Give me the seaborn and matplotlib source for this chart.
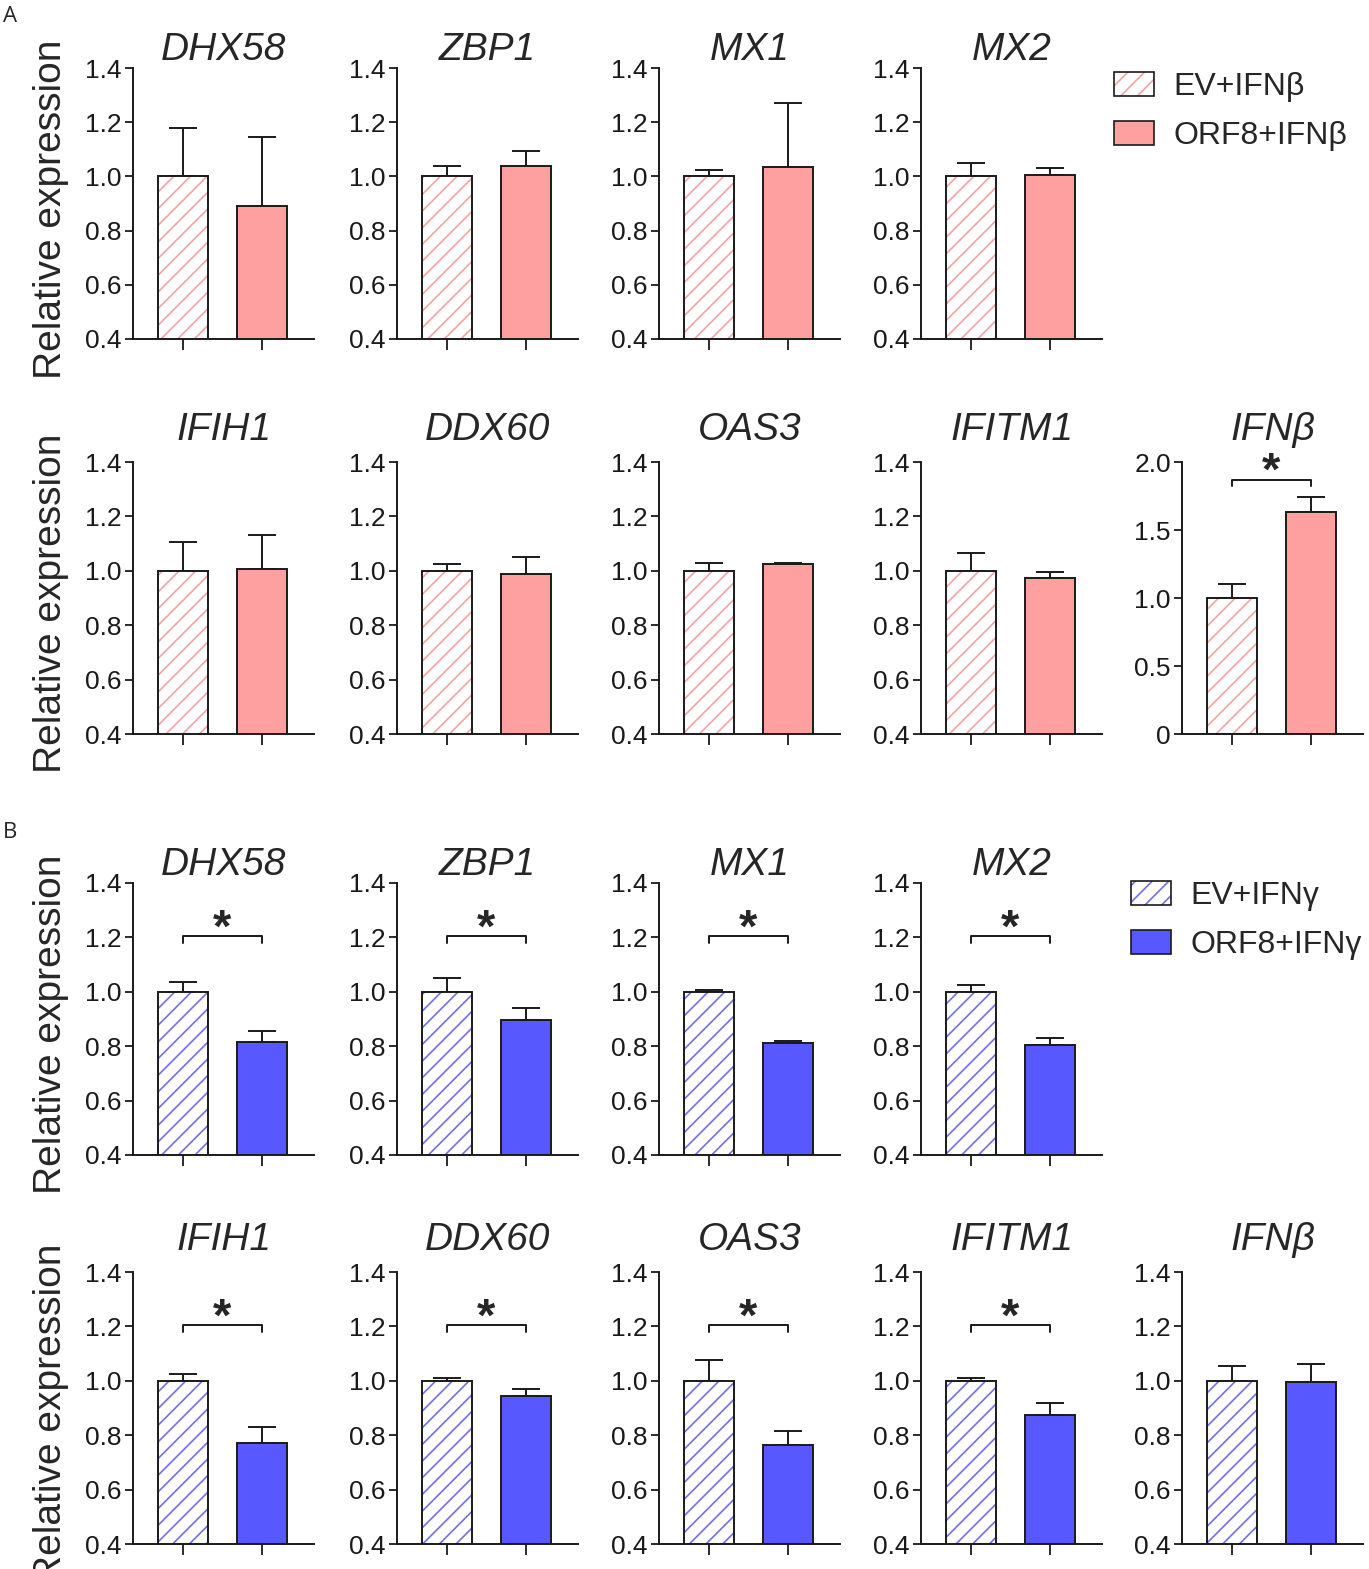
import numpy as np
import pandas as pd
import matplotlib
matplotlib.use("Agg")
import matplotlib.pyplot as plt
import seaborn as sns
from matplotlib.patches import Patch, Rectangle

# data (mean, upper SEM)
genes = ["DHX58", "ZBP1", "MX1", "MX2", "IFIH1", "DDX60", "OAS3", "IFITM1", "IFNβ"]

ev_a = [1.00, 1.00, 1.00, 1.00, 1.00, 1.00, 1.00, 1.00, 1.00]
ev_a_err = [0.18, 0.04, 0.025, 0.05, 0.105, 0.025, 0.03, 0.065, 0.105]
orf_a = [0.89, 1.04, 1.035, 1.005, 1.005, 0.99, 1.025, 0.975, 1.635]
orf_a_err = [0.255, 0.055, 0.235, 0.025, 0.125, 0.06, 0.005, 0.022, 0.105]
sig_a = [False, False, False, False, False, False, False, False, True]

ev_b = [1.00, 1.00, 1.00, 1.00, 1.00, 1.00, 1.00, 1.00, 1.00]
ev_b_err = [0.035, 0.05, 0.005, 0.025, 0.025, 0.01, 0.075, 0.01, 0.055]
orf_b = [0.815, 0.895, 0.81, 0.805, 0.77, 0.945, 0.765, 0.875, 0.995]
orf_b_err = [0.04, 0.045, 0.01, 0.025, 0.06, 0.025, 0.05, 0.045, 0.065]
sig_b = [True, True, True, True, True, True, True, True, False]

groups = ["EV", "ORF8"]

sns.set_style("ticks")
plt.rcParams["font.family"] = ["Liberation Sans", "DejaVu Sans"]
plt.rcParams["hatch.linewidth"] = 1.2

pink = "#FFA0A0"
pink_hatch = "#F5A3A3"
blue = "#5858FF"
blue_hatch = "#7070F0"
ink = "#1a1a1a"

W, H = 1369, 1569
fig = plt.figure(figsize=(W / 100, H / 100), dpi=100)

col_left = [133, 397, 659, 921, 1182]
ax_w = 181
rows = {"A1": (68, 339), "A2": (462, 734), "B1": (883, 1155), "B2": (1272, 1544)}
title_pad = {"A1": 6, "A2": 16, "B1": 6, "B2": 16}


def make_ax(col, row):
    top, bot = rows[row]
    return fig.add_axes([col_left[col] / W, 1 - bot / H, ax_w / W, (bot - top) / H])


def draw_panel(ax, gene, ev, ev_err, orf, orf_err, fill, hatch_col, sig, ylim, ticks, fmt, pad):
    df = pd.DataFrame({"group": groups, "value": [ev, orf]})
    sns.barplot(data=df, x="group", y="value", hue="group", palette=["white", fill],
                saturation=1, errorbar=None, width=0.64, legend=False, ax=ax, zorder=2)
    ev_bar, orf_bar = ax.patches[:2]
    ev_bar.set_hatch("//")
    ev_bar.set_facecolor("white")
    ev_bar.set_edgecolor(hatch_col)
    ev_bar.set_linewidth(0)
    ax.add_patch(Rectangle(ev_bar.get_xy(), ev_bar.get_width(), ev_bar.get_height(),
                           fill=False, ec=ink, lw=1.4, zorder=3))
    orf_bar.set_edgecolor(ink)
    orf_bar.set_linewidth(1.4)
    ax.errorbar([0, 1], [ev, orf], yerr=[[0, 0], [ev_err, orf_err]], fmt="none",
                ecolor=ink, elinewidth=1.4, capsize=10, capthick=1.4, zorder=1)
    ax.set_xlim(-0.64, 1.667)
    ax.set_ylim(*ylim)
    ax.set_yticks(ticks)
    ax.set_yticklabels([fmt(t) for t in ticks])
    ax.set_xticks([0, 1])
    ax.set_xticklabels([])
    ax.set_xlabel("")
    ax.set_ylabel("")
    ax.tick_params(axis="y", length=6, width=1.3, labelsize=19, pad=2, colors=ink)
    ax.tick_params(axis="x", length=8, width=1.3, colors=ink)
    for s in ["left", "bottom"]:
        ax.spines[s].set_linewidth(1.4)
        ax.spines[s].set_color(ink)
    sns.despine(ax=ax)
    ax.set_title(gene, fontstyle="italic", fontsize=28, pad=pad)
    if sig:
        span = ylim[1] - ylim[0]
        h = 1.205 if ylim[1] < 1.5 else 1.87
        d = 0.025 * span
        ax.plot([0, 0, 1, 1], [h - d, h, h, h - d], color=ink, lw=1.4, clip_on=False)
        ax.text(0.5, h - 0.02 * span, "*", ha="center", va="baseline",
                fontsize=34, fontweight="bold", clip_on=False)


def add_ylabel(ax):
    ax.set_ylabel("Relative expression", fontsize=28)
    ax.yaxis.set_label_coords(-0.355, 0.48)


def f1(t):
    return f"{t:.1f}"


def f_ifn(t):
    return "0" if t == 0 else f"{t:.1f}"


std_ticks = [0.4, 0.6, 0.8, 1.0, 1.2, 1.4]

for i, g in enumerate(genes):
    col = i if i < 4 else i - 4
    # panel A
    row = "A1" if i < 4 else "A2"
    ax = make_ax(col, row)
    if g == "IFNβ":
        draw_panel(ax, g, ev_a[i], ev_a_err[i], orf_a[i], orf_a_err[i], pink, pink_hatch,
                   sig_a[i], (0, 2.0), [0, 0.5, 1.0, 1.5, 2.0], f_ifn, title_pad[row])
    else:
        draw_panel(ax, g, ev_a[i], ev_a_err[i], orf_a[i], orf_a_err[i], pink, pink_hatch,
                   sig_a[i], (0.4, 1.4), std_ticks, f1, title_pad[row])
    if col == 0:
        add_ylabel(ax)

    # panel B
    row = "B1" if i < 4 else "B2"
    ax = make_ax(col, row)
    draw_panel(ax, g, ev_b[i], ev_b_err[i], orf_b[i], orf_b_err[i], blue, blue_hatch,
               sig_b[i], (0.4, 1.4), std_ticks, f1, title_pad[row])
    if col == 0:
        add_ylabel(ax)


def legend_handles(fill, hatch_col):
    ev_h = (Patch(facecolor="white", edgecolor=hatch_col, hatch="//", lw=0),
            Patch(facecolor="none", edgecolor=ink, lw=1.2))
    orf_h = Patch(facecolor=fill, edgecolor=ink, lw=1.2)
    return [ev_h, orf_h]


for (fill, hc, labels, y0, x0) in [
    (pink, pink_hatch, ["EV+IFNβ", "ORF8+IFNβ"], 72, 1114),
    (blue, blue_hatch, ["EV+IFNγ", "ORF8+IFNγ"], 881, 1131),
]:
    fig.legend(legend_handles(fill, hc), labels, loc="upper left",
               bbox_to_anchor=(x0 / W, 1 - y0 / H), frameon=False,
               prop={"size": 23}, handlelength=1.25, handleheight=0.75,
               handletextpad=0.6, labelspacing=0.6, borderpad=0, borderaxespad=0)

fig.text(3 / W, 1 - 6 / H, "A", fontsize=16, va="top", ha="left", family="Open Sans")
fig.text(3 / W, 1 - 822 / H, "B", fontsize=16, va="top", ha="left", family="Open Sans")

fig.savefig("out.png", dpi=100)
